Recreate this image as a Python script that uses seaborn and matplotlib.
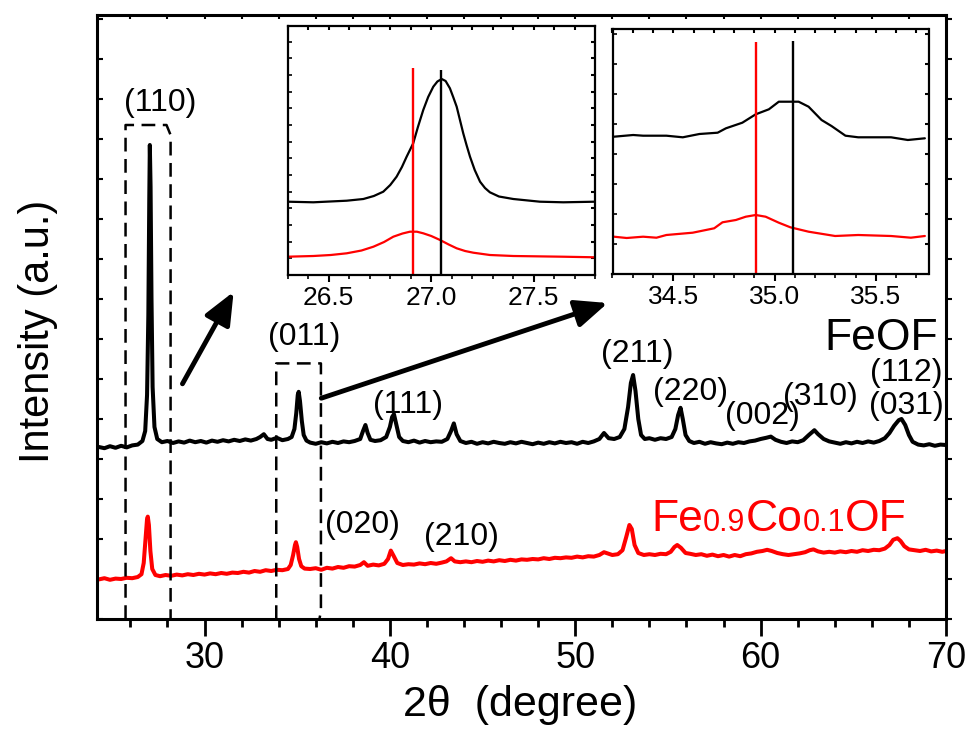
import numpy as np
import pandas as pd
import matplotlib
matplotlib.use('Agg')
import matplotlib.pyplot as plt
import matplotlib.ticker as mtick
from matplotlib.offsetbox import TextArea, HPacker, AnnotationBbox
import seaborn as sns

# ---- main pattern: FeOF (black) ----
feof_x = [24.3, 24.6, 24.9, 25.2, 25.5, 25.8, 26.1, 26.4, 26.65, 26.8, 26.9, 26.97, 27.02, 27.05,
          27.09, 27.14, 27.2, 27.3, 27.45, 27.7, 28.0, 28.3, 28.6, 28.9, 29.2, 29.5, 29.8, 30.1,
          30.4, 30.7, 31.0, 31.3, 31.6, 31.9, 32.2, 32.5, 32.8, 33.0, 33.2, 33.4, 33.6, 33.9,
          34.2, 34.5, 34.7, 34.85, 34.95, 35.03, 35.08, 35.15, 35.25, 35.35, 35.5, 35.7, 36.0,
          36.3, 36.6, 36.9, 37.2, 37.5, 37.8, 38.1, 38.4, 38.55, 38.68, 38.8, 38.95, 39.2, 39.5,
          39.8, 40.0, 40.12, 40.22, 40.35, 40.5, 40.7, 41.0, 41.3, 41.6, 41.9, 42.2, 42.5, 42.8,
          43.1, 43.3, 43.45, 43.6, 43.8, 44.1, 44.4, 44.7, 45.0, 45.3, 45.6, 45.9, 46.2, 46.5,
          46.8, 47.1, 47.4, 47.7, 48.0, 48.3, 48.6, 48.9, 49.2, 49.5, 49.8, 50.1, 50.4, 50.7,
          51.0, 51.3, 51.55, 51.8, 52.1, 52.4, 52.65, 52.85, 53.0, 53.12, 53.25, 53.4, 53.55,
          53.75, 54.0, 54.3, 54.6, 54.9, 55.2, 55.4, 55.55, 55.68, 55.8, 55.95, 56.15, 56.4,
          56.7, 57.0, 57.3, 57.6, 57.9, 58.2, 58.5, 58.8, 59.1, 59.4, 59.7, 60.0, 60.3, 60.55,
          60.8, 61.1, 61.4, 61.7, 62.0, 62.3, 62.6, 62.9, 63.1, 63.4, 63.7, 64.0, 64.3, 64.6,
          64.9, 65.2, 65.5, 65.8, 66.1, 66.4, 66.7, 66.95, 67.2, 67.45, 67.6, 67.8, 68.0, 68.2,
          68.5, 68.8, 69.1, 69.4, 69.7, 70.0]
feof_y = [4.30, 4.27, 4.32, 4.28, 4.33, 4.29, 4.34, 4.36, 4.45, 4.7, 5.6, 7.6, 10.5, 11.85,
          10.8, 8.0, 5.8, 4.8, 4.5, 4.42, 4.45, 4.40, 4.44, 4.41, 4.46, 4.42, 4.45, 4.41,
          4.46, 4.43, 4.47, 4.44, 4.48, 4.45, 4.49, 4.46, 4.5, 4.55, 4.62, 4.5, 4.48, 4.53,
          4.47, 4.5, 4.55, 4.75, 5.15, 5.6, 5.68, 5.45, 4.95, 4.6, 4.46, 4.41, 4.38,
          4.42, 4.39, 4.43, 4.40, 4.44, 4.42, 4.45, 4.5, 4.7, 4.85, 4.65, 4.48, 4.45, 4.47,
          4.55, 4.8, 5.05, 5.12, 4.85, 4.55, 4.45, 4.42, 4.46, 4.41, 4.45, 4.42, 4.44, 4.43,
          4.5, 4.7, 4.89, 4.62, 4.45, 4.40, 4.43, 4.38, 4.42, 4.39, 4.43, 4.40, 4.38, 4.42,
          4.39, 4.43, 4.40, 4.37, 4.41, 4.38, 4.42, 4.39, 4.43, 4.40, 4.42, 4.38, 4.43, 4.40,
          4.44, 4.5, 4.65, 4.52, 4.5, 4.55, 4.75, 5.3, 5.9, 6.1, 5.7, 5.0, 4.6,
          4.5, 4.52, 4.48, 4.52, 4.5, 4.55, 4.75, 5.1, 5.28, 5.0, 4.6, 4.45, 4.40,
          4.43, 4.38, 4.42, 4.39, 4.37, 4.41, 4.38, 4.42, 4.40, 4.44, 4.46, 4.5, 4.53, 4.56,
          4.48, 4.43, 4.40, 4.44, 4.42, 4.47, 4.6, 4.72, 4.62, 4.5, 4.44, 4.41, 4.38, 4.42,
          4.39, 4.43, 4.40, 4.44, 4.41, 4.45, 4.52, 4.65, 4.83, 4.97, 5.0, 4.85, 4.6, 4.43,
          4.36, 4.34, 4.37, 4.33, 4.36, 4.35]

# ---- main pattern: Fe0.9Co0.1OF (red) ----
feco_x = [24.3, 24.6, 24.9, 25.2, 25.5, 25.8, 26.1, 26.4, 26.6, 26.72, 26.82, 26.9, 26.94, 27.0,
          27.08, 27.18, 27.35, 27.6, 27.9, 28.2, 28.5, 28.8, 29.1, 29.4, 29.7, 30.0, 30.3, 30.6,
          30.9, 31.2, 31.5, 31.8, 32.1, 32.4, 32.7, 33.0, 33.3, 33.6, 33.9, 34.2, 34.5, 34.65,
          34.78, 34.88, 34.93, 35.0, 35.1, 35.22, 35.4, 35.7, 36.0, 36.3, 36.6, 36.9, 37.2,
          37.5, 37.8, 38.1, 38.4, 38.6, 38.8, 39.1, 39.4, 39.7, 39.9, 40.05, 40.2, 40.4, 40.7,
          41.0, 41.3, 41.6, 41.9, 42.2, 42.5, 42.8, 43.05, 43.3, 43.5, 43.8, 44.1, 44.4, 44.7,
          45.0, 45.3, 45.6, 45.9, 46.2, 46.5, 46.8, 47.1, 47.4, 47.7, 48.0, 48.3, 48.6, 48.9,
          49.2, 49.5, 49.8, 50.1, 50.4, 50.7, 51.0, 51.3, 51.55, 51.75, 52.0, 52.3, 52.55,
          52.75, 52.92, 53.05, 53.2, 53.4, 53.7, 54.0, 54.3, 54.6, 54.9, 55.15, 55.35, 55.5,
          55.7, 55.95, 56.2, 56.5, 56.8, 57.1, 57.4, 57.7, 58.0, 58.3, 58.6, 58.9, 59.2, 59.5,
          59.8, 60.1, 60.35, 60.6, 60.9, 61.2, 61.5, 61.8, 62.1, 62.4, 62.65, 62.85, 63.1,
          63.4, 63.7, 64.0, 64.3, 64.6, 64.9, 65.2, 65.5, 65.8, 66.1, 66.4, 66.7, 66.95, 67.15,
          67.38, 67.55, 67.75, 68.0, 68.3, 68.6, 68.9, 69.2, 69.5, 69.8, 70.0]
feco_y = [0.99, 1.02, 0.98, 1.01, 1.0, 1.03, 1.02, 1.05, 1.12, 1.4, 2.0, 2.5, 2.56, 2.35,
          1.7, 1.25, 1.1, 1.07, 1.1, 1.08, 1.11, 1.09, 1.12, 1.1, 1.13, 1.11, 1.14, 1.12,
          1.15, 1.13, 1.16, 1.15, 1.18, 1.16, 1.2, 1.18, 1.22, 1.2, 1.23, 1.22, 1.25, 1.35,
          1.6, 1.85, 1.92, 1.8, 1.5, 1.32, 1.26, 1.25, 1.27, 1.23, 1.28, 1.26, 1.3,
          1.28, 1.32, 1.31, 1.35, 1.42, 1.33, 1.36, 1.34, 1.38, 1.5, 1.71, 1.58, 1.4, 1.35,
          1.37, 1.36, 1.39, 1.37, 1.4, 1.38, 1.41, 1.44, 1.52, 1.44, 1.42, 1.44, 1.42, 1.45,
          1.43, 1.46, 1.44, 1.47, 1.45, 1.48, 1.46, 1.49, 1.48, 1.5, 1.49, 1.52, 1.5, 1.53,
          1.52, 1.54, 1.53, 1.56, 1.54, 1.57, 1.56, 1.6, 1.67, 1.64, 1.6, 1.62, 1.72,
          2.05, 2.35, 2.25, 1.85, 1.65, 1.6, 1.62, 1.6, 1.63, 1.62, 1.68, 1.8, 1.85,
          1.78, 1.65, 1.63, 1.6, 1.62, 1.58, 1.61, 1.57, 1.6, 1.56, 1.6, 1.57, 1.62, 1.64,
          1.68, 1.7, 1.73, 1.7, 1.65, 1.62, 1.6, 1.62, 1.64, 1.67, 1.72, 1.74, 1.69,
          1.66, 1.68, 1.66, 1.69, 1.67, 1.7, 1.68, 1.72, 1.7, 1.73, 1.72, 1.76, 1.85, 1.98,
          2.02, 1.95, 1.82, 1.74, 1.72, 1.7, 1.73, 1.69, 1.71, 1.68, 1.7]

# ---- inset 1: (110) region ----
in1_feof_x = [26.30, 26.425, 26.588, 26.669, 26.72, 26.766, 26.80, 26.831, 26.857, 26.88, 26.912,
              26.935, 26.961, 26.985, 27.01, 27.03, 27.051, 27.07, 27.091, 27.107, 27.124, 27.14,
              27.156, 27.172, 27.189, 27.212, 27.238, 27.262, 27.286, 27.33, 27.4, 27.53, 27.644, 27.8]
in1_feof_y = [7.33, 7.27, 7.43, 7.6, 7.9, 8.33, 9.0, 9.83, 10.8, 11.83, 13.17,
              14.8, 16.5, 17.8, 18.83, 19.35, 19.6, 19.4, 18.67, 17.8, 16.83, 15.5,
              14.17, 13.0, 11.83, 10.5, 9.33, 8.7, 8.27, 7.85, 7.6, 7.33, 7.27, 7.33]
in1_feco_x = [26.30, 26.425, 26.51, 26.588, 26.66, 26.718, 26.77, 26.815, 26.86, 26.896, 26.93,
              26.961, 27.0, 27.043, 27.085, 27.124, 27.165, 27.205, 27.286, 27.4, 27.64, 27.8]
in1_feco_y = [1.83, 1.9, 2.0, 2.17, 2.45, 2.83, 3.3, 3.83, 4.15, 4.33, 4.33,
              4.17, 3.9, 3.5, 3.05, 2.67, 2.4, 2.23, 2.0, 1.9, 1.83, 1.77]
in1_pos = {'feco': (26.913, 20.67), 'feof': (27.048, 20.5)}

# ---- inset 2: (011) region ----
in2_feof_x = [34.207, 34.302, 34.351, 34.466, 34.547, 34.629, 34.719, 34.76, 34.841, 34.907,
              34.972, 35.021, 35.119, 35.168, 35.232, 35.281, 35.35, 35.413, 35.575, 35.658, 35.742]
in2_feof_y = [13.73, 13.9, 13.83, 13.83, 13.67, 14.0, 14.13, 14.57, 15.13, 15.97,
              16.47, 17.23, 17.23, 16.73, 15.4, 14.8, 13.83, 13.67, 13.67, 13.4, 13.57]
in2_feco_x = [34.207, 34.27, 34.351, 34.417, 34.466, 34.596, 34.702, 34.743, 34.809, 34.858,
              34.907, 34.956, 35.021, 35.078, 35.168, 35.299, 35.413, 35.575, 35.673, 35.742]
in2_feco_y = [3.73, 3.6, 3.73, 3.63, 3.9, 4.13, 4.57, 5.17, 5.4, 5.73,
              5.9, 5.73, 5.13, 4.67, 4.23, 3.8, 3.9, 3.8, 3.63, 3.8]
in2_pos = {'feco': (34.91, 23.23), 'feof': (35.09, 23.33)}

# ---- annotations ----
hkl_labels = ['(110)', '(011)', '(111)', '(211)', '(220)', '(002)', '(310)', '(112)', '(031)',
              '(020)', '(210)']
hkl_x = [27.63, 35.37, 40.96, 53.37, 56.23, 60.09, 63.24, 67.86, 67.86, 38.50, 43.87]
hkl_y = [12.9, 7.05, 5.35, 6.63, 5.68, 5.08, 5.55, 6.15, 5.33, 2.35, 2.05]

box1 = ([25.74, 25.74, 27.95, 28.17, 28.17], [0, 12.35, 12.35, 12.1, 0])
box2 = ([33.87, 33.87, 36.28, 36.28, 36.2], [0, 6.39, 6.39, 0.2, 0])
arrows = [((28.81, 5.88), (31.57, 8.18)), ((36.30, 5.52), (51.75, 7.9))]

FONT = ['Liberation Sans', 'DejaVu Sans']
W, H = 971, 734


def mirror_ticks(ax, xmaj, xmin, ylocs, top_len=3, right_dir='in', right_len=3):
    '''add short ticks on top / right spines'''
    top = ax.secondary_xaxis('top')
    top.set_xticks(xmaj)
    top.xaxis.set_minor_locator(mtick.FixedLocator(xmin))
    top.tick_params(which='both', direction='in', length=top_len, width=1.5, labeltop=False,
                    color='black')
    top.spines['top'].set_visible(False)
    right = ax.secondary_yaxis('right')
    right.set_yticks(ylocs)
    right.tick_params(direction=right_dir, length=right_len, width=1.5, labelright=False,
                      color='black')
    right.spines['right'].set_visible(False)


sns.set_theme(style='ticks')
plt.rcParams['font.family'] = FONT
plt.rcParams['axes.linewidth'] = 2.2
for k in ['text.color', 'axes.labelcolor', 'xtick.color', 'ytick.color', 'axes.edgecolor']:
    plt.rcParams[k] = 'black'

fig = plt.figure(figsize=(W / 100, H / 100), dpi=100)
ax = fig.add_axes([97 / W, 1 - 619 / H, (946 - 97) / W, (619 - 15) / H])

df_main = pd.concat([
    pd.DataFrame({'x': feof_x, 'y': feof_y, 's': 'FeOF'}),
    pd.DataFrame({'x': feco_x, 'y': feco_y, 's': 'FeCo'}),
])
sns.lineplot(data=df_main, x='x', y='y', hue='s', palette={'FeOF': 'black', 'FeCo': '#ff0000'},
             lw=2.9, legend=False, ax=ax, sort=False, estimator=None)

ax.set_xlim(24.2, 70)
ax.set_ylim(0, 15.1)
ax.set_xticks([30, 40, 50, 60, 70])
ax.xaxis.set_minor_locator(mtick.MultipleLocator(2))
yl = np.arange(0, 15.1, 1.0)
ax.set_yticks(yl)
ax.set_yticklabels([])
ax.tick_params(axis='x', which='major', direction='out', length=12, width=2, labelsize=26, pad=4)
ax.tick_params(axis='x', which='minor', direction='out', length=6, width=2)
ax.tick_params(axis='y', direction='in', length=4, width=1.5)
ax.set_xlabel('')
ax.set_ylabel('')
mirror_ticks(ax, [30, 40, 50, 60, 70], list(np.arange(26, 70, 2)), yl, top_len=3,
             right_dir='out', right_len=4)

# dashed boxes and arrows
for bx, by in (box1, box2):
    ax.plot(bx, by, color='black', lw=1.8, ls=(0, (5.5, 3)), clip_on=False)
for tail, tip in arrows:
    ax.annotate('', xy=tip, xytext=tail,
                arrowprops=dict(arrowstyle='-|>,head_length=0.7,head_width=0.3',
                                color='black', lw=3.5, mutation_scale=28, shrinkA=0, shrinkB=0))

for t, x, y in zip(hkl_labels, hkl_x, hkl_y):
    ax.text(x, y, t, fontsize=23, ha='center', va='center', color='black')

ax.text(66.48, 6.72, 'FeOF', fontsize=32, ha='center', va='baseline', color='black')

parts = [('Fe', 32), ('0.9', 22), ('Co', 32), ('0.1', 22), ('OF', 32)]
pack = HPacker(children=[TextArea(s, textprops=dict(color='#ff0000', fontsize=fs, family=FONT))
                         for s, fs in parts], align='baseline', pad=0, sep=0)
ab = AnnotationBbox(pack, (54.1, 1.98), xycoords='data', box_alignment=(0, 0), frameon=False, pad=0)
ax.add_artist(ab)

fig.text(38 / W, 1 - 331 / H, 'Intensity (a.u.)', rotation=90, fontsize=30, ha='center', va='center')
fig.text(520 / W, 1 - 705 / H, '2θ  (degree)', fontsize=31, ha='center', va='center')


# insets
def draw_inset(rect, fx, fy, cx, cy, pos, xlim, ylim, ystep):
    ins = fig.add_axes(rect)
    d = pd.concat([pd.DataFrame({'x': fx, 'y': fy, 's': 'FeOF'}),
                   pd.DataFrame({'x': cx, 'y': cy, 's': 'FeCo'})])
    sns.lineplot(data=d, x='x', y='y', hue='s', palette={'FeOF': 'black', 'FeCo': '#ff0000'},
                 lw=1.6, legend=False, ax=ins, sort=False, estimator=None)
    ins.vlines(pos['feco'][0], 0, pos['feco'][1], color='#ff0000', lw=1.7)
    ins.vlines(pos['feof'][0], 0, pos['feof'][1], color='black', lw=1.7)
    ins.set_xlim(*xlim)
    ins.set_ylim(*ylim)
    ins.xaxis.set_major_locator(mtick.MultipleLocator(0.5))
    ins.xaxis.set_minor_locator(mtick.MultipleLocator(0.1))
    ins.xaxis.set_major_formatter(mtick.FormatStrFormatter('%.1f'))
    yt = np.arange(ystep, ylim[1], ystep)
    ins.set_yticks(yt)
    ins.set_yticklabels([])
    ins.tick_params(axis='x', which='major', direction='out', length=5, width=1.5, labelsize=19, pad=3)
    ins.tick_params(axis='x', which='minor', direction='out', length=3, width=1.2)
    ins.tick_params(axis='y', direction='in', length=3, width=1.2)
    for s in ins.spines.values():
        s.set_linewidth(1.6)
    ins.set_xlabel('')
    ins.set_ylabel('')
    mtk = np.arange(np.ceil(xlim[0] * 10) / 10, xlim[1], 0.1)
    mirror_ticks(ins, [], list(mtk), yt, top_len=3, right_dir='in', right_len=3)
    return ins


draw_inset([287.7 / W, 1 - 275 / H, (595.3 - 287.7) / W, (275 - 26) / H],
           in1_feof_x, in1_feof_y, in1_feco_x, in1_feco_y, in1_pos, (26.3, 27.8), (0, 24.9), 1.667)
draw_inset([612.5 / W, 1 - 274 / H, (928.5 - 612.5) / W, (274 - 29.3) / H],
           in2_feof_x, in2_feof_y, in2_feco_x, in2_feco_y, in2_pos, (34.2, 35.76), (0, 24.47), 3.0)

fig.savefig('out.png', dpi=100)
